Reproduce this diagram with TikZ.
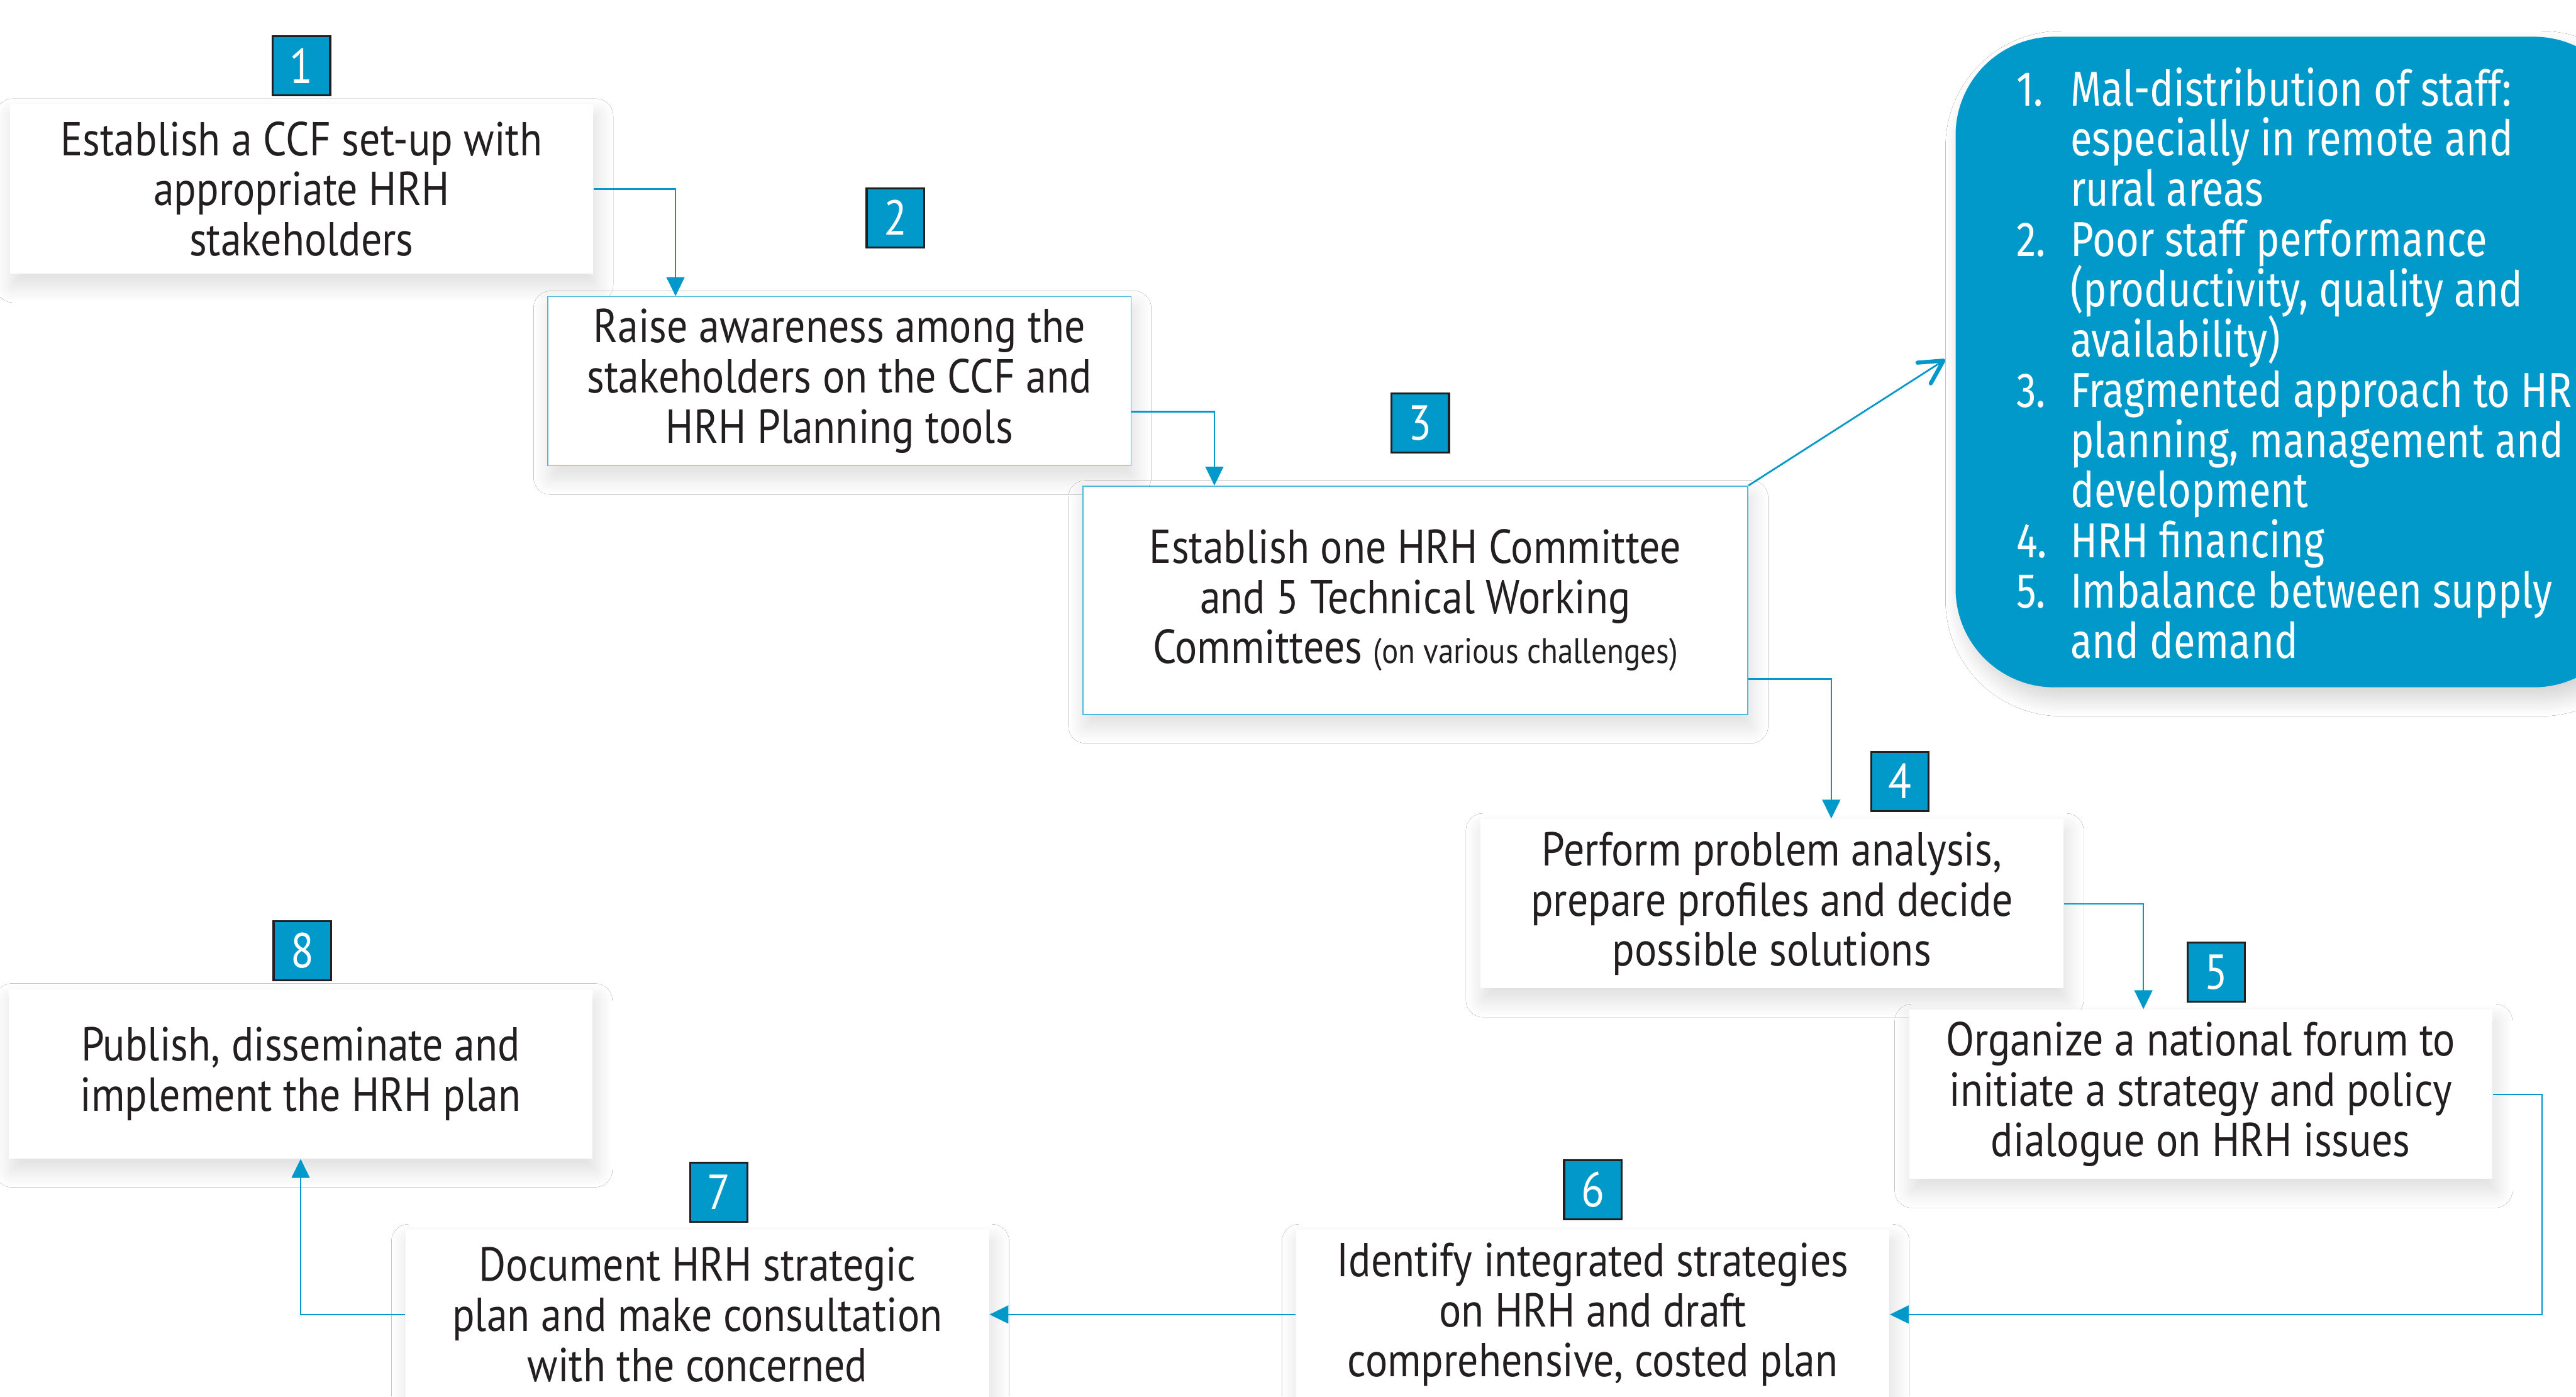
\documentclass[tikz,border=0pt]{standalone}
\usepackage{fontspec}
\setmainfont[FakeStretch=0.87]{PT Sans}
\newfontfamily\listfont[FakeStretch=0.81]{Fira Sans}
\usetikzlibrary{arrows.meta, calc, shadows.blur}
\definecolor{hrhblue}{HTML}{0099C9}
\definecolor{inkgray}{HTML}{231F20}
\definecolor{edgeblue}{HTML}{4DB8DE}
% one entry of the challenges list
\newcommand{\challenge}[1]{\makebox[0.66cm][l]{#1}}
\newcommand{\cont}{\hspace*{0.66cm}}
\newcommand{\listsize}{\listfont\fontsize{17}{17.4}\selectfont\setlength{\lineskiplimit}{-10pt}}

\begin{document}
\begin{tikzpicture}[x=0.02cm, y=-0.02cm,
		stepbox/.style={fill=white, text=inkgray, align=center, inner sep=0pt,
			minimum width=7.1cm, minimum height=2.06cm,
			font=\fontsize{16.5}{17.4}\selectfont,
			blur shadow={shadow xshift=1pt, shadow yshift=-4pt, shadow blur radius=6pt,
				shadow blur steps=20, shadow opacity=14}},
		numbox/.style={fill=hrhblue, draw=inkgray, line width=0.7pt, text=white, inner sep=0pt,
			minimum width=0.7cm, minimum height=0.72cm, font=\fontsize{17}{17.4}\selectfont},
		flow/.style={draw=hrhblue, line width=0.55pt, -{Triangle[length=0.23cm, width=0.22cm]}}
	]
		\useasboundingbox (0,0) rectangle (1568,850);
		\fill[white] (0,0) rectangle (1568,850);

		% challenges panel
		\node[fill=hrhblue, rounded corners=1.2cm, minimum width=8.24cm, minimum height=7.92cm,
			anchor=north west, blur shadow={shadow yshift=-4pt, shadow blur radius=6pt,
				shadow blur steps=20, shadow opacity=18}]
			(problems) at (1190,22) {};
		\node[anchor=west, text=white, inner sep=0pt, align=left, font=\listsize]
			(problist) at (1227,221)
		{\challenge{1.}Mal-distribution of staff:\\
			\cont especially in remote and\\
			\cont rural areas\\
			\challenge{2.}Poor staff performance\\
			\cont (productivity, quality and\\
			\cont availability)\\
			\challenge{3.}Fragmented approach to HR\\
			\cont planning, management and\\
			\cont development\\
			\challenge{4.}HRH financing\\
			\challenge{5.}Imbalance between supply\\
			\cont and demand};

		% steps
		\node[stepbox] (box1) at (183.5,115) {Establish a CCF set-up with\\ appropriate HRH\\ stakeholders};
		\node[stepbox, draw=edgeblue, line width=0.4pt] (box2) at (511,232) {Raise awareness among the\\ stakeholders on the CCF and\\ HRH Planning tools};
		\node[stepbox, draw=edgeblue, line width=0.4pt, minimum width=8.1cm, minimum height=2.78cm] (box3) at (861.5,365.3)
			{Establish one HRH Committee\\ and 5 Technical Working\\ Committees {\fontsize{12.3}{17.4}\selectfont (on various challenges)}};
		\node[stepbox] (box4) at (1078.5,550) {Perform problem analysis,\\ prepare profiles and decide\\ possible solutions};
		\node[stepbox] (box5) at (1339.5,666) {Organize a national forum to\\ initiate a strategy and policy\\ dialogue on HRH issues};
		\node[stepbox, minimum width=7.22cm] (box6) at (969.5,800) {Identify integrated strategies\\ on HRH and draft\\ comprehensive, costed plan};
		\node[stepbox] (box7) at (424.5,800) {Document HRH strategic\\ plan and make consultation\\ with the concerned};
		\node[stepbox] (box8) at (183,653.5) {Publish, disseminate and\\ implement the HRH plan};

		% step numbers
		\foreach \n/\x/\y in {1/183.5/40, 2/545/132.5, 3/864.5/257.5, 4/1156.5/475.5,
			5/1349/591.5, 6/969.5/724, 7/437.5/725.5, 8/184/578.5}
			\node[numbox] (n\n) at (\x,\y) {\n};

		% flow between steps
		\draw[flow] (box1.east) -| ($(box2.north west)+(78,0)$);
		\draw[flow] ($(box2.east)+(0,18.5)$) -| ($(box3.north west)+(80.5,0)$);
		\draw[flow] ($(box3.east)+(0,48)$) -| ($(box4.north west)+(214,0)$);
		\draw[flow] (box4.east) -| ($(box5.north west)+(143,0)$);
		\draw[flow] (box5.east) -- ++(30,0) |- (box6.east);
		\draw[flow] (box6.west) -- (box7.east);
		\draw[flow] (box7.west) -| (box8.south);

		\draw[hrhblue, line width=0.6pt, -{Straight Barb[length=0.28cm, width=0.3cm, line width=1.4pt, round]}]
			(box3.north east) -- ($(problems.west)+(-6,-1.5)$);
	\end{tikzpicture}
\end{document}
